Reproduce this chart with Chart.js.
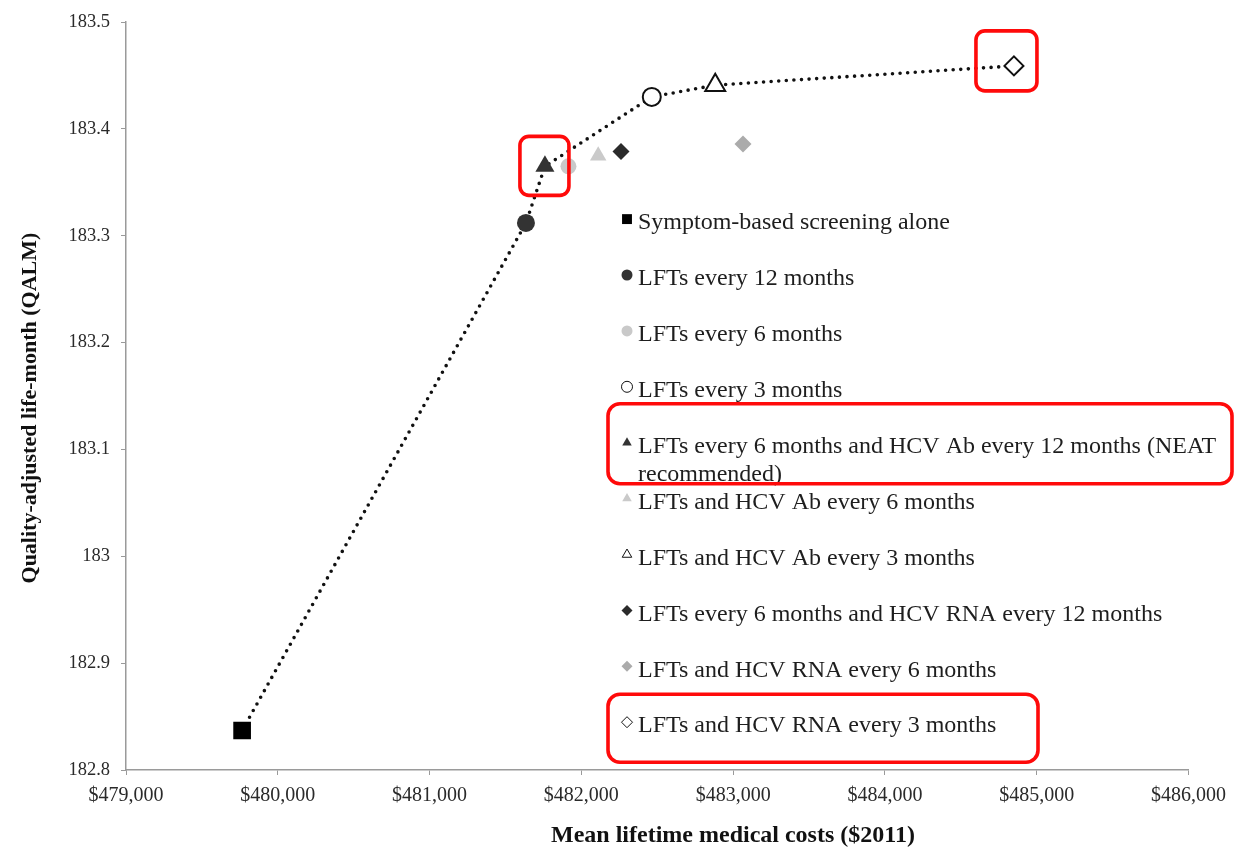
<!DOCTYPE html>
<html>
<head>
<meta charset="utf-8">
<script src="https://cdn.jsdelivr.net/npm/chart.js@4.4.1/dist/chart.umd.min.js"></script>
<style>
  html, body { margin: 0; padding: 0; background: #fff; }
</style>
</head>
<body>
<canvas id="grafica_qalm" width="1235" height="849"></canvas>
<script>
// estrategias de tamizaje (categorias)
const estrategias = [
    'Symptom-based screening alone',
    'LFTs every 12 months',
    'LFTs every 6 months',
    'LFTs every 3 months',
    'LFTs every 6 months and HCV Ab every 12 months (NEAT\nrecommended)',
    'LFTs and HCV Ab every 6 months',
    'LFTs and HCV Ab every 3 months',
    'LFTs every 6 months and HCV RNA every 12 months',
    'LFTs and HCV RNA every 6 months',
    'LFTs and HCV RNA every 3 months'
]
// costo medio de por vida ($2011)
const costos = [479765, 481635, 481915, 482464, 481760, 482111, 482882, 482261, 483065, 484850]
// meses de vida ajustados por calidad
const qalm = [182.837, 183.312, 183.365, 183.430, 183.365, 183.375, 183.441, 183.379, 183.386, 183.459]
// indices de la frontera eficiente (linea punteada)
const frontera = [0, 1, 4, 3, 6, 9]

// ejes
const ejeX = { min: 479000, max: 486000, paso: 1000 }
const ejeY = { min: 182.8, max: 183.5, paso: 0.1 }
const tituloX = 'Mean lifetime medical costs ($2011)'
const tituloY = 'Quality-adjusted life-month (QALM)'

// estilo de cada marcador
const marcadores = [
    { forma: 'rect',     relleno: '#000000', borde: '#000000', radio: 12.5, ancho: 0 },
    { forma: 'circle',   relleno: '#333333', borde: '#333333', radio: 9,    ancho: 0 },
    { forma: 'circle',   relleno: '#c9c9c9', borde: '#c9c9c9', radio: 8,    ancho: 0 },
    { forma: 'circle',   relleno: '#ffffff', borde: '#111111', radio: 9,    ancho: 2 },
    { forma: 'triangle', relleno: '#333333', borde: '#333333', radio: 11,   ancho: 0 },
    { forma: 'triangle', relleno: '#cacaca', borde: '#cacaca', radio: 9.5,  ancho: 0 },
    { forma: 'triangle', relleno: '#ffffff', borde: '#111111', radio: 11.5, ancho: 2 },
    { forma: 'rectRot',  relleno: '#2b2b2b', borde: '#2b2b2b', radio: 8.5,  ancho: 0 },
    { forma: 'rectRot',  relleno: '#ababab', borde: '#ababab', radio: 8.5,  ancho: 0 },
    { forma: 'rectRot',  relleno: '#ffffff', borde: '#111111', radio: 9.5,  ancho: 2 }
]

const fuente = '"Liberation Serif", "Times New Roman", serif'

const datasets = estrategias.map((nombre, i) => ({
    label: nombre,
    data: [{ x: costos[i], y: qalm[i] }],
    pointStyle: marcadores[i].forma,
    pointRadius: marcadores[i].radio,
    pointBackgroundColor: marcadores[i].relleno,
    pointBorderColor: marcadores[i].borde,
    pointBorderWidth: marcadores[i].ancho,
    order: 0
}))

datasets.push({
    type: 'line',
    label: 'frontera',
    data: frontera.map(i => ({ x: costos[i], y: qalm[i] })),
    borderColor: '#111',
    borderWidth: 3.6,
    borderDash: [0, 7.6],
    borderCapStyle: 'round',
    pointRadius: 0,
    fill: false,
    tension: 0,
    order: 1
})

function cajaRedonda(ctx, x1, y1, x2, y2, r) {
    ctx.beginPath()
    ctx.moveTo(x1 + r, y1)
    ctx.lineTo(x2 - r, y1)
    ctx.arcTo(x2, y1, x2, y1 + r, r)
    ctx.lineTo(x2, y2 - r)
    ctx.arcTo(x2, y2, x2 - r, y2, r)
    ctx.lineTo(x1 + r, y2)
    ctx.arcTo(x1, y2, x1, y2 - r, r)
    ctx.lineTo(x1, y1 + r)
    ctx.arcTo(x1, y1, x1 + r, y1, r)
    ctx.closePath()
    ctx.stroke()
}

// leyenda dentro del grafico, titulos de ejes y recuadros rojos
const leyendaYMarcos = {
    id: 'leyendaYMarcos',
    afterDraw(chart) {
        const ctx = chart.ctx
        const area = chart.chartArea
        const sx = chart.scales.x
        const sy = chart.scales.y
        ctx.save()

        // titulos
        ctx.fillStyle = '#111'
        ctx.textAlign = 'center'
        ctx.textBaseline = 'middle'
        ctx.font = 'bold 24px ' + fuente
        ctx.fillText(tituloX, area.left + 607, chart.height - 13)
        ctx.save()
        ctx.translate(30, area.top + 386)
        ctx.rotate(-Math.PI / 2)
        ctx.font = 'bold 22px ' + fuente
        ctx.fillText(tituloY, 0, 0)
        ctx.restore()

        // leyenda
        const xMarca = area.left + 501
        const filas = []
        ctx.textAlign = 'left'
        ctx.font = '24px ' + fuente
        estrategias.forEach((nombre, i) => {
            const y = area.top + 201 + i * 55.9
            filas.push(y)
            const m = marcadores[i]
            ctx.fillStyle = m.relleno
            ctx.strokeStyle = m.borde
            Chart.helpers.drawPoint(ctx, {
                pointStyle: m.forma,
                radius: m.forma === 'rect' ? 7 : 5.5,
                rotation: 0,
                borderWidth: m.ancho ? 1.6 : 0
            }, xMarca, y - 4)
            ctx.fillStyle = '#1e1e1e'
            nombre.split('\n').forEach((linea, k) => {
                ctx.fillText(linea, xMarca + 11, y + k * 28)
            })
        })

        // recuadros rojos
        ctx.strokeStyle = '#ff0a0a'
        ctx.lineWidth = 3.6
        const pNeat = { x: sx.getPixelForValue(costos[4]), y: sy.getPixelForValue(qalm[4]) }
        cajaRedonda(ctx, pNeat.x - 25, pNeat.y - 30, pNeat.x + 24, pNeat.y + 29, 9)
        const pRna = { x: sx.getPixelForValue(costos[9]), y: sy.getPixelForValue(qalm[9]) }
        cajaRedonda(ctx, pRna.x - 38, pRna.y - 35, pRna.x + 23, pRna.y + 25, 9)
        cajaRedonda(ctx, xMarca - 19, filas[4] - 43, xMarca + 605, filas[4] + 37, 12)
        cajaRedonda(ctx, xMarca - 19, filas[9] - 32, xMarca + 411, filas[9] + 36, 12)

        ctx.restore()
    }
}

const ctx_qalm = document.getElementById('grafica_qalm').getContext('2d')

new Chart(ctx_qalm, {
    type: 'scatter',
    data: { datasets: datasets },
    options: {
        responsive: false,
        animation: false,
        layout: {
            padding: { top: 18, right: 34, left: 0, bottom: 0 }
        },
        scales: {
            x: {
                type: 'linear',
                min: ejeX.min,
                max: ejeX.max,
                afterFit: function(scale) { scale.height = 79 },
                grid: {
                    drawOnChartArea: false,
                    drawTicks: true,
                    tickLength: 5,
                    color: '#9a9a9a'
                },
                border: { color: '#9a9a9a', width: 1.5 },
                ticks: {
                    stepSize: ejeX.paso,
                    padding: 9,
                    color: '#2a2a2a',
                    font: { family: fuente, size: 20 },
                    callback: function(value) {
                        return '$' + value.toLocaleString('en-US')
                    }
                }
            },
            y: {
                min: ejeY.min,
                max: ejeY.max,
                afterFit: function(scale) { scale.width = 126 },
                grid: {
                    drawOnChartArea: false,
                    drawTicks: true,
                    tickLength: 5,
                    color: '#9a9a9a'
                },
                border: { color: '#9a9a9a', width: 1.5 },
                ticks: {
                    stepSize: ejeY.paso,
                    padding: 11,
                    color: '#2a2a2a',
                    font: { family: fuente, size: 18.5 },
                    callback: function(value) {
                        return String(Number(value.toFixed(1)))
                    }
                }
            }
        },
        plugins: {
            legend: { display: false },
            tooltip: { enabled: false },
            title: { display: false }
        }
    },
    plugins: [leyendaYMarcos]
})
</script>
</body>
</html>
